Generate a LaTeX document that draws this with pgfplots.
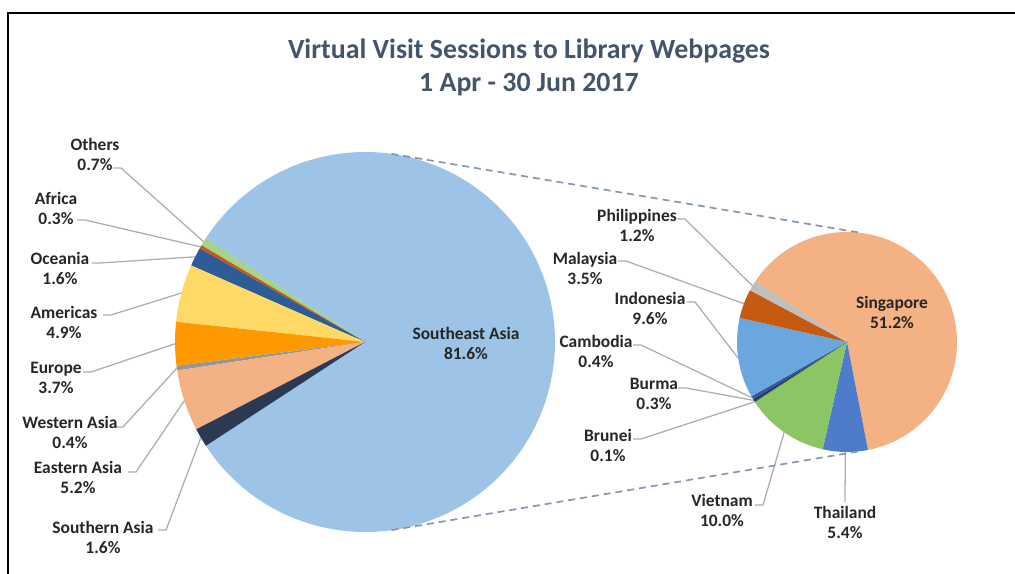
\documentclass[border=0pt]{standalone}
\usepackage{pgfplots}
\pgfplotsset{compat=1.18}
\usepackage{pgfplotstable}
\usepackage{fontspec}
\setmainfont{Carlito}

\definecolor{cSEA}{HTML}{9DC3E6}
\definecolor{cOthers}{HTML}{A9D18E}
\definecolor{cAfrica}{HTML}{C55A11}
\definecolor{cOceania}{HTML}{2E5C96}
\definecolor{cAmericas}{HTML}{FFD966}
\definecolor{cEurope}{HTML}{FF9900}
\definecolor{cWAsia}{HTML}{969696}
\definecolor{cEAsia}{HTML}{F4B183}
\definecolor{cSAsia}{HTML}{2B3A52}
\definecolor{cSing}{HTML}{F4B183}
\definecolor{cThai}{HTML}{4F7BCB}
\definecolor{cViet}{HTML}{8CC563}
\definecolor{cBrunei}{HTML}{3B6B2A}
\definecolor{cBurma}{HTML}{203864}
\definecolor{cCambodia}{HTML}{2E5C96}
\definecolor{cIndo}{HTML}{6AA7DE}
\definecolor{cMalay}{HTML}{C55A11}
\definecolor{cPhil}{HTML}{BFBFBF}
\definecolor{cLead}{HTML}{ADADAD}
\definecolor{cDash}{HTML}{8497B0}
\definecolor{cText}{HTML}{262626}
\definecolor{cTitle}{HTML}{44546A}

% regions of the world (main pie), counter-clockwise from -146.88 deg
\pgfplotstableread[col sep=comma]{
label,value,col,lx,ly,sx,sy,hx,lead
Southeast Asia,81.6,cSEA,466,-343,0,0,0,0
Others,0.7,cOthers,95,-154,113,-168,8,1
Africa,0.3,cAfrica,56,-208,77,-220,8,1
Oceania,1.6,cOceania,60,-268,92,-263,8,1
Americas,4.9,cAmericas,64,-322,103,-315,8,1
Europe,3.7,cEurope,56,-378,83,-372,8,1
Western Asia,0.4,cWAsia,70,-432,115,-427,8,1
Eastern Asia,5.2,cEAsia,78,-477,128,-472,8,1
Southern Asia,1.6,cSAsia,103,-537,158,-530,8,1
}\maintable

% Southeast Asia breakdown (second pie), clockwise
\pgfplotstableread[col sep=comma]{
label,value,col,lx,ly,sx,sy,hx,lead
Singapore,51.2,cSing,892,-312,0,0,0,0
Thailand,5.4,cThai,845,-522,845,-502,0,1
Vietnam,10.0,cViet,722,-510,755,-505,8,1
Brunei,0.1,cBrunei,608,-445,633,-439,8,1
Burma,0.3,cBurma,654,-394,678,-388,8,1
Cambodia,0.4,cCambodia,596,-351,633,-345,8,1
Indonesia,9.6,cIndo,650,-308,687,-302,8,1
Malaysia,3.5,cMalay,585,-268,618,-261,8,1
Philippines,1.2,cPhil,637,-225,677,-219,8,1
}\subtable

% #1 table, #2 cx, #3 cy, #4 radius (units), #5 start angle, #6 degrees per unit
\newcommand{\drawpie}[6]{%
  \pgfplotstablegetrowsof{#1}%
  \pgfmathtruncatemacro{\N}{\pgfplotsretval-1}%
  \xdef\cum{#5}%
  \foreach \i in {0,...,\N}{%
    \pgfplotstablegetelem{\i}{value}\of#1\let\sv\pgfplotsretval
    \pgfplotstablegetelem{\i}{col}\of#1\let\scol\pgfplotsretval
    \pgfmathsetmacro{\sa}{\cum}%
    \pgfmathsetmacro{\sb}{\cum+(#6)*\sv}%
    \fill[fill=\scol] (axis cs:#2,#3) -- ++(\sa:{#4*0.25mm}) arc[start angle=\sa,end angle=\sb,radius={#4*0.25mm}] -- cycle;
    \xdef\cum{\sb}%
  }%
  \xdef\cum{#5}%
  \foreach \i in {0,...,\N}{%
    \pgfplotstablegetelem{\i}{value}\of#1\let\sv\pgfplotsretval
    \pgfplotstablegetelem{\i}{label}\of#1\let\slab\pgfplotsretval
    \pgfplotstablegetelem{\i}{lx}\of#1\let\slx\pgfplotsretval
    \pgfplotstablegetelem{\i}{ly}\of#1\let\sly\pgfplotsretval
    \pgfplotstablegetelem{\i}{sx}\of#1\let\ssx\pgfplotsretval
    \pgfplotstablegetelem{\i}{sy}\of#1\let\ssy\pgfplotsretval
    \pgfplotstablegetelem{\i}{hx}\of#1\let\shx\pgfplotsretval
    \pgfplotstablegetelem{\i}{lead}\of#1\let\slead\pgfplotsretval
    \pgfmathsetmacro{\sa}{\cum}%
    \pgfmathsetmacro{\sb}{\cum+(#6)*\sv}%
    \pgfmathsetmacro{\sm}{(\sa+\sb)/2}%
    \pgfmathsetmacro{\ex}{#2+#4*cos(\sm)}%
    \pgfmathsetmacro{\ey}{#3+#4*sin(\sm)}%
    \pgfmathsetmacro{\hxx}{\ssx+\shx}%
    \ifnum\slead=1
      \draw[cLead,line width=0.9pt] (axis cs:\ssx,\ssy) -- (axis cs:\hxx,\ssy) -- (axis cs:\ex,\ey);
    \fi
    \node[font=\bfseries\fontsize{12.4}{14.2}\selectfont,text=cText,align=center,inner sep=0pt]
      at (axis cs:\slx,\sly) {\slab\\\sv\%};
    \xdef\cum{\sb}%
  }%
}

\begin{document}
\begin{tikzpicture}
\begin{axis}[
  scale only axis,
  width=253.75mm, height=143.5mm,
  xmin=0, xmax=1015, ymin=-574, ymax=0,
  hide axis, clip=false,
]
\pgfplotsextra{%
  \drawpie{\maintable}{365}{-342}{190}{-146.88}{3.6}
  \drawpie{\subtable}{847}{-342}{110}{146.62}{-360/81.7}
  % connector lines
  \pgfmathsetmacro{\ax}{365+190*cos(82)}\pgfmathsetmacro{\ay}{-342+190*sin(82)}
  \pgfmathsetmacro{\bx}{847+110*cos(82)}\pgfmathsetmacro{\by}{-342+110*sin(82)}
  \pgfmathsetmacro{\cx}{365+190*cos(-82)}\pgfmathsetmacro{\cy}{-342+190*sin(-82)}
  \pgfmathsetmacro{\dx}{847+110*cos(-84)}\pgfmathsetmacro{\dy}{-342+110*sin(-84)}
  \draw[cDash,line width=1.2pt,dash pattern=on 5pt off 3.5pt] (axis cs:\ax,\ay) -- (axis cs:\bx,\by);
  \draw[cDash,line width=1.2pt,dash pattern=on 5pt off 3.5pt] (axis cs:\cx,\cy) -- (axis cs:\dx,\dy);
  % title
  \node[font=\bfseries\fontsize{19.8}{24}\selectfont,text=cTitle] at (axis cs:529,-51) {Virtual Visit Sessions to Library Webpages};
  \node[font=\bfseries\fontsize{19.8}{24}\selectfont,text=cTitle] at (axis cs:529,-85) {1 Apr - 30 Jun 2017};
  % frame
  \draw[black,line width=1.4pt] (axis cs:8,-574) -- (axis cs:8,-13) -- (axis cs:1015,-13);
}
\end{axis}
\pgfresetboundingbox
\path (0,0) rectangle (253.75mm,143.5mm);
\end{tikzpicture}
\end{document}
